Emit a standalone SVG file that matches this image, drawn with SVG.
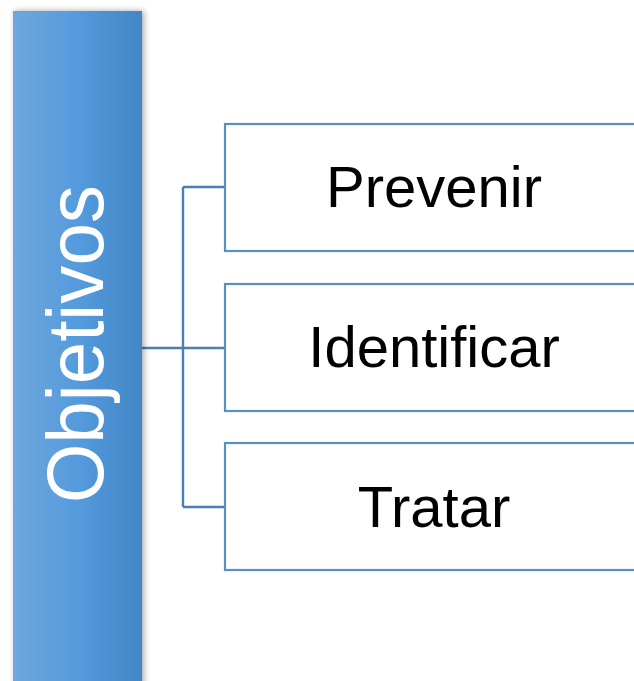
<svg xmlns="http://www.w3.org/2000/svg" width="634" height="681" viewBox="0 0 634 681">
<style>
.box{fill:#ffffff;stroke:#5a8fc4;stroke-width:2.2}
.lbl{font-family:"Liberation Sans",Arial,sans-serif;font-size:58px;fill:#000000;text-anchor:middle}
.conn{fill:none;stroke:#4a7eb4;stroke-width:2.4}
</style>
<defs>
<linearGradient id="barg" x1="0" y1="0" x2="1" y2="0">
<stop offset="0" stop-color="#70a7dc"/>
<stop offset="0.5" stop-color="#549bdd"/>
<stop offset="1" stop-color="#4386c6"/>
</linearGradient>
<filter id="sh" x="-20%" y="-5%" width="140%" height="110%">
<feGaussianBlur in="SourceAlpha" stdDeviation="3"/>
<feOffset dx="2" dy="0" result="b"/>
<feComponentTransfer><feFuncA type="linear" slope="0.35"/></feComponentTransfer>
<feMerge><feMergeNode/><feMergeNode in="SourceGraphic"/></feMerge>
</filter>
</defs>
<rect width="634" height="681" fill="#ffffff"/>
<g id="connectors">
<path class="conn" d="M142,348 H225 M183,187 V507 M183,187 H225 M183,507 H225"/>
</g>
<g id="objetivos">
<rect x="13" y="11" width="129" height="690" fill="url(#barg)" filter="url(#sh)"/>
<text transform="translate(103,344) rotate(-90)" text-anchor="middle" font-family="Liberation Sans,Arial,sans-serif" font-size="80" fill="#ffffff" textLength="318" lengthAdjust="spacingAndGlyphs">Objetivos</text>
</g>
<g id="prevenir">
<rect class="box" x="225" y="124" width="420" height="127"/>
<text class="lbl" x="434" y="207">Prevenir</text>
</g>
<g id="identificar">
<rect class="box" x="225" y="284" width="420" height="127"/>
<text class="lbl" x="434" y="367">Identificar</text>
</g>
<g id="tratar">
<rect class="box" x="225" y="443" width="420" height="127"/>
<text class="lbl" x="434" y="527">Tratar</text>
</g>
</svg>
